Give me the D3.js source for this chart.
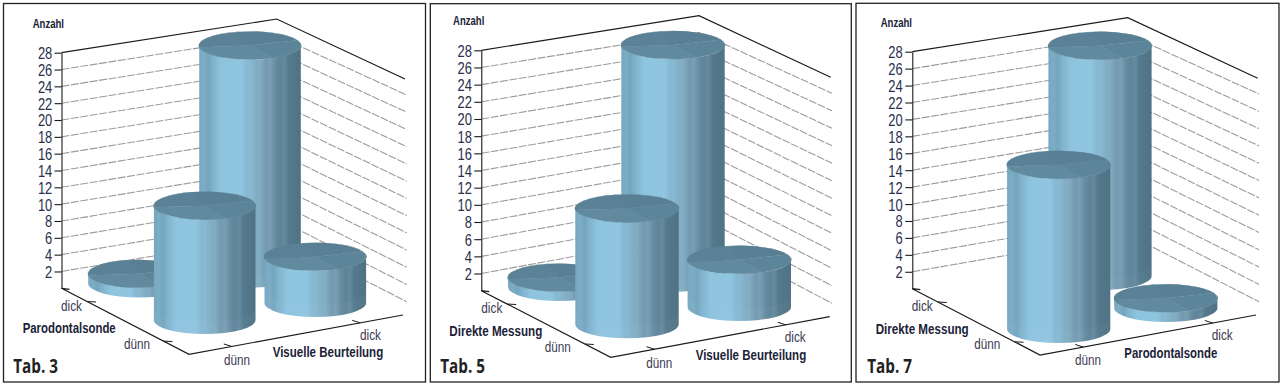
<!DOCTYPE html>
<html>
<head>
<meta charset="utf-8">
<title>Tab. 3, 5, 7</title>
<script src="https://cdn.jsdelivr.net/npm/d3@7"></script>
<style>
  html, body { margin: 0; background: #fff; }
  svg { display: block; }
  text { font-family: 'Liberation Sans', sans-serif; fill: #2b3550; }
  .tick-label { font-size: 16.5px; fill: #27304c; }
  .cat { font-size: 15px; fill: #3a3a52; }
  .title { font-size: 15.5px; font-weight: bold; fill: #1c2238; }
  .anzahl { font-size: 12.5px; font-weight: bold; fill: #1c2238; }
  .tab { font-family: 'Open Sans', sans-serif; font-size: 20px; font-weight: 700; fill: #222; }
</style>
</head>
<body>
<svg id="chart" width="1283" height="387"></svg>
<script>
const levels = ['dünn', 'dick']
const valueTicks = [2, 4, 6, 8, 10, 12, 14, 16, 18, 20, 22, 24, 26, 28]
const tabNames = ['Tab. 3', 'Tab. 5', 'Tab. 7']
const xTitles = ['Visuelle Beurteilung', 'Visuelle Beurteilung', 'Parodontalsonde']
const depthTitles = ['Parodontalsonde', 'Direkte Messung', 'Direkte Messung']

// counts: [depth dünn: x dünn, x dick], [depth dick: x dünn, x dick]
const tab3Counts = [[13.6, 5.5], [1.15, 27.1]]
const tab5Counts = [[13.5, 5.5], [1.1, 27.1]]
const tab7Counts = [[19.4, 1.15], [0, 27.2]]
const allCounts = [tab3Counts, tab5Counts, tab7Counts]

// page geometry of the three panels
const layouts = [
  {
    frame: [3.5, 3.5, 422, 378.5], axisX: 61.5, top: 52.7, floor: 288.3,
    back: [276.7, 19, 252], right: [405, 79], gridEnd: [406.7, 318.9, 77.8],
    front: [189, 354.3], floorRight: [403, 315], tickEnd: 52.3, rx: 50.8, ry: 14,
    slots: [[204.7, 320.1], [315.3, 303], [139, 283.5], [250, 273.5]],
    text: { anzahl: [32.7, 27.7], depthDick: [61, 311], depthDuenn: [124, 349], depthTitle: [22.7, 333],
      xDuenn: [224, 365], xDick: [360, 340], xTitle: [272.7, 356.7], tab: [13.3, 373] }
  },
  {
    frame: [430.3, 3.7, 421, 378.3], axisX: 481.3, top: 50.3, floor: 290.7,
    back: [699, 15.7, 250], right: [830.7, 77.3], gridEnd: [832, 320.8, 75.8],
    front: [610.7, 357.3], floorRight: [829.7, 316.7], tickEnd: 472, rx: 51.7, ry: 14,
    slots: [[627, 324.3], [739.3, 307], [559.7, 287], [673, 277.7]],
    text: { anzahl: [453, 25], depthDick: [481.3, 313.3], depthDuenn: [544.7, 351.7], depthTitle: [449.3, 335.7],
      xDuenn: [646.3, 367.7], xDick: [784.7, 341.7], xTitle: [695.7, 360], tab: [440.3, 373.3] }
  },
  {
    frame: [856, 3.3, 423, 378.7], axisX: 912.3, top: 51.7, floor: 288.7,
    back: [1127.7, 17.7, 251], right: [1257.7, 78.3], gridEnd: [1259, 319, 76.7],
    front: [1040, 355], floorRight: [1256, 315], tickEnd: 902.7, rx: 51.6, ry: 14,
    slots: [[1058.7, 329], [1165.8, 308], [993, 282], [1100, 276]],
    text: { anzahl: [880.7, 26.7], depthDick: [911.7, 310.7], depthDuenn: [974.3, 349], depthTitle: [875.7, 334],
      xDuenn: [1075, 365], xDick: [1211.7, 340], xTitle: [1124.3, 357.7], tab: [867.3, 373.3] }
  }
]

const svg = d3.select('#chart')
const defs = svg.append('defs')

// side of a cylinder: muted left rim, light at one third, dark to the right, with streaky facets
const bodyShades = [
  [0, '#78a8c0'], [0.05, '#7cadc6'], [0.09, '#74a5bd'], [0.14, '#80b4ce'], [0.22, '#8fc4de'],
  [0.42, '#90c5df'], [0.47, '#85b8d2'], [0.5, '#8ab9d1'], [0.56, '#7faec5'], [0.6, '#84acc1'],
  [0.66, '#7299af'], [0.7, '#7a9fb3'], [0.76, '#648a9f'], [0.8, '#5e8499'], [0.84, '#668a9d'],
  [0.88, '#557a8e'], [0.94, '#527688'], [1, '#4f7285']
]
const bodyGradient = defs.append('linearGradient').attr('id', 'cylBody')
  .attr('x1', 0).attr('x2', 1).attr('y1', 0).attr('y2', 0)
bodyGradient.selectAll('stop').data(bodyShades).join('stop')
  .attr('offset', d => d[0])
  .attr('stop-color', d => d[1])

// the pie wedges on the lid of each cylinder
const lidWedges = [
  { start: -14, end: 68, fill: '#587f93' },
  { start: 68, end: 153, fill: '#5d8599' },
  { start: 153, end: 263, fill: '#618a9e' },
  { start: 263, end: 346, fill: '#5a8195' }
]
const lidArc = d3.arc().innerRadius(0).outerRadius(1)
  .startAngle(d => d.start * Math.PI / 180)
  .endAngle(d => d.end * Math.PI / 180)

const levelPos = d3.scalePoint().domain(levels).range([0, 1])
const axisPos = d3.scalePoint().domain(levels).range([0.2, 0.8])

// no narrow face is installed, so squeeze to the widths in the picture
const textWidth = {
  'Anzahl': 31.3, 'dünn': 26, 'dick': 21,
  'Parodontalsonde': 93, 'Visuelle Beurteilung': 110.5, 'Direkte Messung': 93,
  'Tab. 3': 44.7, 'Tab. 5': 44.7, 'Tab. 7': 44.7
}

allCounts.forEach((counts, p) => {
  const lay = layouts[p]
  const g = svg.append('g')

  g.append('rect')
    .attr('x', lay.frame[0]).attr('y', lay.frame[1])
    .attr('width', lay.frame[2]).attr('height', lay.frame[3])
    .attr('fill', '#fff').attr('stroke', '#222').attr('stroke-width', 1.3)

  const y = d3.scaleLinear().domain([0, 28]).range([lay.floor, lay.top])
  const yBack = d3.scaleLinear().domain([0, 28]).range([lay.back[2], lay.back[1]])
  const yEnd = d3.scaleLinear().domain([0, 28]).range([lay.gridEnd[1], lay.gridEnd[2]])

  // Gridlines on the two back walls
  const wallLine = d3.line()
  g.selectAll('.grid')
    .data(valueTicks.filter(v => v < 28))
    .join('path')
    .attr('class', 'grid')
    .attr('d', v => wallLine([[lay.axisX, y(v)], [lay.back[0], yBack(v)], [lay.gridEnd[0], yEnd(v)]]))
    .attr('fill', 'none')
    .attr('stroke', '#9c9c9c')
    .attr('stroke-width', 1.1)
    .attr('stroke-dasharray', '8 1.5')

  // Wall tops and floor edges
  g.append('path')
    .attr('d', wallLine([[lay.axisX, lay.top], lay.back.slice(0, 2), lay.right]))
    .attr('fill', 'none').attr('stroke', '#1a1a1a').attr('stroke-width', 1.2)
  g.append('path')
    .attr('d', wallLine([[lay.axisX + 8, lay.floor + 1], [lay.axisX, lay.floor], lay.front, lay.floorRight]))
    .attr('fill', 'none').attr('stroke', '#1a1a1a').attr('stroke-width', 1.2)

  // Value axis
  const yAxis = d3.axisLeft(y).tickValues(valueTicks).tickSize(7).tickSizeOuter(0)
    .tickPadding(lay.axisX - 7 - lay.tickEnd)
  const yAxisDiv = g.append('g')
    .attr('transform', `translate(${lay.axisX}, 0)`)
    .call(yAxis)
  yAxisDiv.attr('font-family', null).attr('font-size', null)
  yAxisDiv.select('.domain').attr('stroke', '#1a1a1a').attr('stroke-width', 1.1)
  yAxisDiv.selectAll('line').attr('stroke', '#1a1a1a').attr('stroke-width', 1.1)
  yAxisDiv.selectAll('text')
    .attr('class', 'tick-label')
    .attr('fill', null)
    .attr('dy', '0.36em')
    .attr('lengthAdjust', 'spacingAndGlyphs')
    .attr('textLength', v => v < 10 ? 7.2 : 14.4)

  // Category ticks along the floor
  const L = [lay.axisX, lay.floor]
  levels.forEach(level => {
    const a = axisPos(level)
    const dx = lay.front[0] + (lay.floorRight[0] - lay.front[0]) * a
    const dy = lay.front[1] + (lay.floorRight[1] - lay.front[1]) * a
    g.append('line').attr('x1', dx).attr('y1', dy).attr('x2', dx - 8).attr('y2', dy - 2.5)
      .attr('stroke', '#1a1a1a').attr('stroke-width', 1)
    const ex = lay.front[0] + (L[0] - lay.front[0]) * a
    const ey = lay.front[1] + (L[1] - lay.front[1]) * a
    g.append('line').attr('x1', ex).attr('y1', ey).attr('x2', ex + 9).attr('y2', ey + 0.5)
      .attr('stroke', '#1a1a1a').attr('stroke-width', 1)
  })

  // Cylinders, back ones first
  const [s00, s10, s01, s11] = lay.slots
  const place = (u, v) => [0, 1].map(i =>
    (1 - u) * (1 - v) * s00[i] + u * (1 - v) * s10[i] + (1 - u) * v * s01[i] + u * v * s11[i])

  const cells = []
  levels.forEach((depth, r) => levels.forEach((col, c) => {
    if (counts[r][c] > 0) cells.push({ depth, col, value: counts[r][c] })
  }))
  cells.forEach(d => {
    d.base = place(levelPos(d.col), levelPos(d.depth))
    d.lid = d.base[1] - (y(0) - y(d.value))
  })
  cells.sort((a, b) => a.base[1] - b.base[1])

  const rx = lay.rx
  const ry = lay.ry
  const cyl = g.selectAll('.cyl').data(cells).join('g').attr('class', 'cyl')

  cyl.append('path')
    .attr('d', d => `M${d.base[0] - rx},${d.lid}L${d.base[0] - rx},${d.base[1]}` +
      `A${rx},${ry} 0 0 0 ${d.base[0] + rx},${d.base[1]}L${d.base[0] + rx},${d.lid}` +
      `A${rx},${ry} 0 0 1 ${d.base[0] - rx},${d.lid}Z`)
    .attr('fill', 'url(#cylBody)')

  // faint reflection of the floor at the foot of the taller ones
  cyl.filter(d => d.base[1] - d.lid > 30).append('path')
    .attr('d', d => `M${d.base[0] - rx},${d.base[1] - 12}L${d.base[0] - rx},${d.base[1]}` +
      `A${rx},${ry} 0 0 0 ${d.base[0] + rx},${d.base[1]}L${d.base[0] + rx},${d.base[1] - 12}` +
      `A${rx},${ry} 0 0 1 ${d.base[0] - rx},${d.base[1] - 12}Z`)
    .attr('fill', '#cfe8f4').attr('opacity', 0.04)

  cyl.append('g')
    .attr('transform', d => `translate(${d.base[0]},${d.lid}) scale(${rx},${ry})`)
    .selectAll('path').data(lidWedges).join('path')
    .attr('d', lidArc)
    .attr('fill', w => w.fill)
    .attr('stroke', w => w.fill)
    .attr('stroke-width', 0.02)

  // Labels
  const addText = (pos, cls, str) => g.append('text')
    .attr('x', pos[0]).attr('y', pos[1]).attr('class', cls)
    .attr('lengthAdjust', 'spacingAndGlyphs')
    .attr('textLength', textWidth[str])
    .text(str)
  addText(lay.text.anzahl, 'anzahl', 'Anzahl')
  addText(lay.text.depthDick, 'cat', levels[1])
  addText(lay.text.depthDuenn, 'cat', levels[0])
  addText(lay.text.depthTitle, 'title', depthTitles[p])
  addText(lay.text.xDuenn, 'cat', levels[0])
  addText(lay.text.xDick, 'cat', levels[1])
  addText(lay.text.xTitle, 'title', xTitles[p])
  addText(lay.text.tab, 'tab', tabNames[p])
})
</script>
</body>
</html>
